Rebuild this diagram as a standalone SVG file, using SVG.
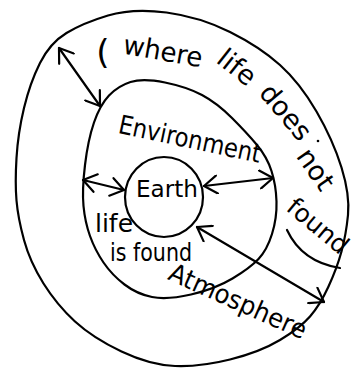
<svg xmlns="http://www.w3.org/2000/svg" width="355" height="369" viewBox="0 0 355 369">
<style>
.ln{fill:none;stroke:#000;stroke-width:2.2;stroke-linecap:round;stroke-linejoin:round}
.t{font-family:"DejaVu Sans","Liberation Sans",sans-serif;fill:#000;text-anchor:middle;dominant-baseline:central}
</style>
<defs>
<marker id="ah" viewBox="0 0 20 20" refX="18" refY="10" markerWidth="20" markerHeight="20" markerUnits="userSpaceOnUse" orient="auto-start-reverse">
<path d="M5,1 L18,10 L5,19" fill="none" stroke="#000" stroke-width="2.2" stroke-linecap="round" stroke-linejoin="round"/>
</marker>
</defs>
<rect width="355" height="369" fill="#fff"/>
<g id="atmosphere">
<path class="ln" d="M166.5,12.5 Q200,17 230,32 Q260,47 280,65 Q300,83 316.5,111.5 Q333,140 341.5,167.5 Q350,195 348,215 Q346,235 341.5,251.5 Q337,268 328.5,286.5 Q320,305 310,316.5 Q300,328 280,340 Q260,352 230,359.5 Q200,367 175,366 Q150,365 121.5,351.5 Q93,338 75,321.5 Q57,305 43.5,283.5 Q30,262 24,240 Q18,218 16.5,200.5 Q15,183 16.5,158 Q18,133 24,108 Q30,83 40,63 Q50,43 66.5,33 Q83,23 108,15.5 Q133,8 166.5,12.5 Z"/>
<text class="t" x="103" y="52" font-size="34">(</text>
<text class="t" transform="translate(163,51) rotate(10)" font-size="27" textLength="80" lengthAdjust="spacingAndGlyphs">where</text>
<text class="t" transform="translate(237,67) rotate(38)" font-size="27">life</text>
<text class="t" transform="translate(286,112) rotate(50)" font-size="27">does</text>
<circle cx="318" cy="141" r="1.3" fill="#000"/>
<text class="t" transform="translate(316,169) rotate(55)" font-size="27">not</text>
<text class="t" transform="translate(318,226) rotate(40)" font-size="25">found</text>
<path class="ln" d="M287,230 Q302,262 340,268"/>
<text class="t" transform="translate(238,301) rotate(24)" font-size="26" textLength="148" lengthAdjust="spacingAndGlyphs">Atmosphere</text>
</g>
<g id="environment">
<path class="ln" d="M165,82.5 Q187,87 202,95 Q217,103 232,118 Q247,133 257,145 Q267,157 271.5,171 Q276,185 276.5,201.5 Q277,218 272,234 Q267,250 258.5,259 Q250,268 232.5,278.5 Q215,289 191,294.5 Q167,300 152,297 Q137,294 124.5,284.5 Q112,275 103.5,262.5 Q95,250 90,236 Q85,222 83.5,206 Q82,190 85,165 Q88,140 94,122.5 Q100,105 109,95.5 Q118,86 130.5,82 Q143,78 165,82.5 Z"/>
<text class="t" transform="translate(190,139) rotate(12)" font-size="26" textLength="145" lengthAdjust="spacingAndGlyphs">Environment</text>
<text class="t" x="114" y="223" font-size="25">life</text>
<text class="t" x="151" y="252" font-size="25" textLength="82" lengthAdjust="spacingAndGlyphs">is found</text>
</g>
<g id="earth">
<ellipse class="ln" cx="164" cy="197" rx="39" ry="40"/>
<text class="t" x="167" y="189" font-size="23" textLength="62" lengthAdjust="spacingAndGlyphs">Earth</text>
</g>
<g id="connectors" class="ln">
<line x1="59" y1="48" x2="100" y2="106" marker-start="url(#ah)" marker-end="url(#ah)"/>
<line x1="83" y1="180" x2="124" y2="190" marker-start="url(#ah)" marker-end="url(#ah)"/>
<line x1="204" y1="186" x2="273" y2="178" marker-start="url(#ah)" marker-end="url(#ah)"/>
<line x1="197" y1="227" x2="324" y2="302" marker-start="url(#ah)" marker-end="url(#ah)"/>
</g>
</svg>
